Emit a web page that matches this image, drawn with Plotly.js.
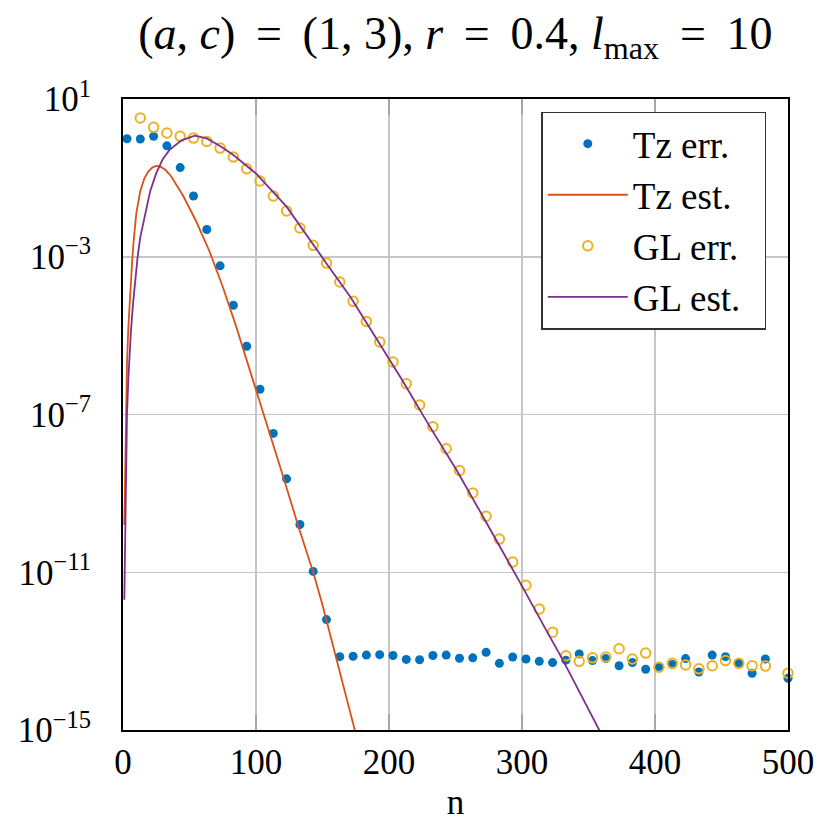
<!DOCTYPE html>
<html>
<head>
<meta charset="utf-8">
<script src="https://cdn.plot.ly/plotly-3.0.1.min.js"></script>
<style>
  html, body { margin: 0; padding: 0; background: #fff; }
  #chart { width: 831px; height: 831px; }
</style>
</head>
<body>
<div id="chart"></div>
<script>
// sample points (n) of the two error series
var errN = [3, 13, 23, 33, 43, 53, 63, 73, 83, 93,
    103, 113, 123, 133, 143, 153, 163, 173, 183, 193,
    203, 213, 223, 233, 243, 253, 263, 273, 283, 293,
    303, 313, 323, 333, 343, 353, 363, 373, 383, 393,
    403, 413, 423, 433, 443, 453, 463, 473, 483, 500];

var tzErr = [0.98, 0.97, 1.13, 0.65, 0.182, 3.47e-2, 4.90e-3, 5.89e-4, 5.89e-5, 5.37e-6,
    4.37e-7, 3.31e-8, 2.34e-9, 1.62e-10, 1.05e-11, 6.31e-13, 7.24e-14, 7.41e-14, 7.94e-14, 8.13e-14,
    7.76e-14, 6.17e-14, 6.03e-14, 7.76e-14, 7.94e-14, 6.61e-14, 6.76e-14, 9.33e-14, 4.90e-14, 7.08e-14,
    6.31e-14, 5.50e-14, 5.13e-14, 5.89e-14, 8.51e-14, 5.75e-14, 6.46e-14, 4.27e-14, 5.13e-14, 3.47e-14,
    4.07e-14, 4.57e-14, 6.46e-14, 2.95e-14, 7.94e-14, 7.24e-14, 4.90e-14, 2.75e-14, 6.31e-14, 2.04e-14];

// GL error at n = 3 is above the plotted range, so it starts at n = 13
var glErrN = [13, 23, 33, 43, 53, 63, 73, 83, 93,
    103, 113, 123, 133, 143, 153, 163, 173, 183, 193,
    203, 213, 223, 233, 243, 253, 263, 273, 283, 293,
    303, 313, 323, 333, 343, 353, 363, 373, 383, 393,
    403, 413, 423, 433, 443, 453, 463, 473, 483, 500];

var glErr = [3.30, 1.91, 1.37, 1.13, 1.02, 0.84, 0.57, 0.337, 0.170,
    8.32e-2, 3.47e-2, 1.45e-2, 5.37e-3, 1.95e-3, 6.92e-4, 2.29e-4, 7.41e-5, 2.29e-5, 6.92e-6,
    2.14e-6, 6.03e-7, 1.74e-7, 4.90e-8, 1.35e-8, 3.80e-9, 1.02e-9, 2.63e-10, 6.92e-11, 1.82e-11,
    4.68e-12, 1.17e-12, 3.02e-13, 7.59e-14, 5.50e-14, 6.76e-14, 7.08e-14, 1.15e-13, 6.31e-14, 8.91e-14,
    3.89e-14, 4.90e-14, 4.47e-14, 3.55e-14, 4.27e-14, 5.75e-14, 4.90e-14, 4.27e-14, 4.17e-14, 2.75e-14];

// estimate curves
var tzEstN = [1, 2, 3, 4, 5, 6, 7, 8, 10, 13, 16, 19, 22, 25, 28, 32, 36, 45, 55, 65,
    75, 85, 95, 106, 120, 132, 143, 150, 158, 166, 175, 180];
var tzEst = [1.58e-10, 1.0e-7, 2.0e-6, 1.58e-5, 7.94e-5, 2.82e-4, 8.91e-4, 2.51e-3, 1.26e-2, 4.68e-2,
    9.55e-2, 0.145, 0.182, 0.200, 0.195, 0.158, 0.112, 3.63e-2, 7.94e-3, 1.38e-3,
    1.74e-4, 1.74e-5, 1.51e-6, 1.0e-7, 2.95e-9, 1.41e-10, 1.0e-11, 1.48e-12, 1.41e-13, 1.26e-14,
    8.91e-16, 1.78e-16];

var glEstN = [1, 2, 3, 4, 5, 6, 7.5, 9, 11, 13, 17, 20.5, 25, 30, 35, 44, 54, 63, 73, 83,
    100, 123, 153, 171, 190, 210, 230, 251, 270, 290, 299, 319, 329, 338, 359, 365];
var glEst = [2.0e-12, 1.58e-9, 1.0e-7, 7.94e-7, 3.72e-6, 1.35e-5, 6.31e-5, 2.40e-4, 1.0e-3, 3.16e-3,
    1.35e-2, 4.68e-2, 0.132, 0.302, 0.513, 0.891, 1.175, 1.0, 0.646, 0.380,
    0.129, 1.86e-2, 6.76e-4, 9.55e-5, 8.91e-6, 7.41e-7, 5.37e-8, 3.80e-9, 2.82e-10, 1.82e-11,
    5.13e-12, 3.02e-13, 7.59e-14, 2.0e-14, 8.91e-16, 3.55e-16];

var yTickVals = [1e1, 1e-3, 1e-7, 1e-11, 1e-15];
var yTickText = ["10<sup>1</sup>", "10<sup>\u22123</sup>", "10<sup>\u22127</sup>",
    "10<sup>\u221211</sup>", "10<sup>\u221215</sup>"];
var xTickVals = [0, 100, 200, 300, 400, 500];

var serif = "Liberation Serif, Times New Roman, serif";
var eq = "\u2009 = \u2009";

var data = [{
    x: errN, y: tzErr,
    name: "Tz err.\u2002",
    type: "scatter", mode: "markers",
    marker: {color: "#0072BD", size: 9, symbol: "circle"},
    cliponaxis: false
}, {
    x: tzEstN, y: tzEst,
    name: "Tz est.\u2002",
    type: "scatter", mode: "lines",
    line: {color: "#D95319", width: 1.8}
}, {
    x: glErrN, y: glErr,
    name: "GL err.\u2002",
    type: "scatter", mode: "markers",
    marker: {color: "#EDB120", size: 9.5, symbol: "circle-open", line: {width: 2}},
    cliponaxis: false
}, {
    x: glEstN, y: glEst,
    name: "GL est.\u2002",
    type: "scatter", mode: "lines",
    line: {color: "#7E2F8E", width: 1.8}
}];

var layout = {
    width: 831, height: 831,
    margin: {l: 123, r: 43, t: 99, b: 101},
    paper_bgcolor: "#fff", plot_bgcolor: "#fff",
    font: {family: serif, size: 35, color: "#000"},
    title: {
        text: "(<i>a</i>, <i>c</i>)" + eq + "(1, 3), <i>r</i>" + eq + "0.4, <i>l</i><sub>max</sub>" + eq + "10",
        font: {family: serif, size: 46, color: "#000"},
        x: 0.548, xref: "container", xanchor: "center",
        y: 0.96, yref: "container", yanchor: "middle"
    },
    xaxis: {
        range: [0, 500],
        tickvals: xTickVals,
        ticks: "inside", ticklen: 16, tickwidth: 1.5, tickcolor: "#a6a6a6",
        showgrid: true, gridcolor: "#c6c6c6", gridwidth: 1.5,
        showline: true, linecolor: "#000", linewidth: 2, mirror: "ticks",
        zeroline: false,
        tickfont: {family: serif, size: 35},
        title: {text: "n", font: {family: serif, size: 35}, standoff: 8}
    },
    yaxis: {
        type: "log",
        range: [-15, 1],
        tickvals: yTickVals, ticktext: yTickText,
        // invisible outside ticks push the labels away from the frame
        ticks: "outside", ticklen: 23, tickwidth: 1, tickcolor: "rgba(0,0,0,0)",
        automargin: false,
        showgrid: true, gridcolor: "#c6c6c6", gridwidth: 1.5,
        showline: true, linecolor: "#000", linewidth: 2, mirror: true,
        zeroline: false,
        tickfont: {family: serif, size: 35}
    },
    legend: {
        x: 0.629, y: 0.98, xanchor: "left", yanchor: "top",
        bgcolor: "#fff", bordercolor: "#333", borderwidth: 1.5,
        font: {family: serif, size: 37},
        itemwidth: 80
    },
    showlegend: true
};

Plotly.newPlot("chart", data, layout, {staticPlot: true});
</script>
</body>
</html>
